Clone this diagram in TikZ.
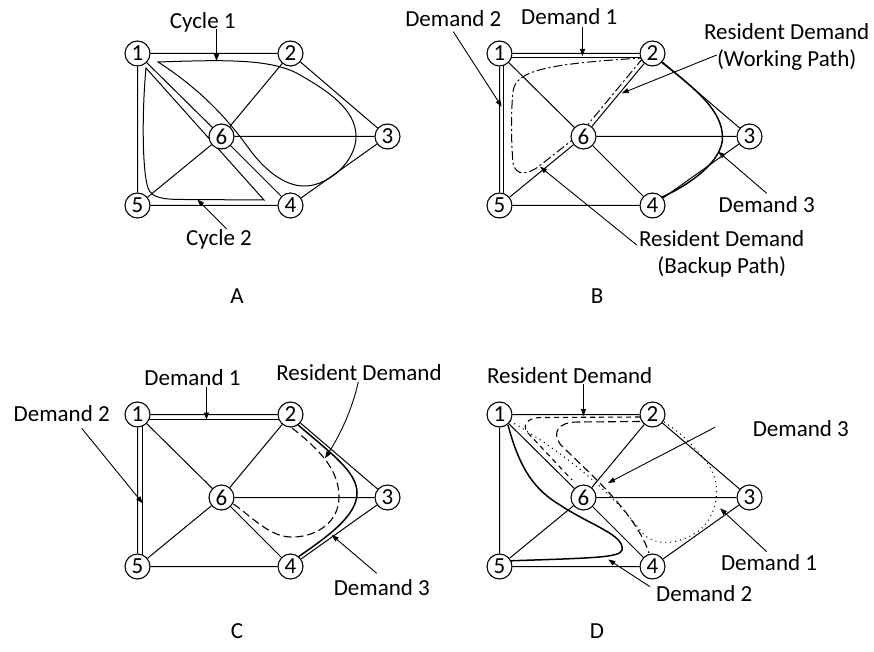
\documentclass[tikz,border=0pt]{standalone}
\usepackage{fontspec}
\setmainfont{Carlito}
\usetikzlibrary{arrows.meta}
\pgfdeclarelayer{bg}
\pgfsetlayers{bg,main}
\newcommand\fs{\fontsize{23}{27}\selectfont}
\newcommand\mygraph[3]{%
  \node[vtx] (#1-1) at (137.5+#2,53.5+#3) {1};
  \node[vtx] (#1-2) at (290.5+#2,53.5+#3) {2};
  \node[vtx] (#1-3) at (387.5+#2,136.5+#3) {3};
  \node[vtx] (#1-4) at (290.5+#2,205.5+#3) {4};
  \node[vtx] (#1-5) at (137.5+#2,205.5+#3) {5};
  \node[vtx] (#1-6) at (221.5+#2,136.5+#3) {6};
  \draw[lnk] (#1-1)--(#1-2) (#1-1)--(#1-5) (#1-1)--(#1-6) (#1-2)--(#1-6)
             (#1-2)--(#1-3) (#1-3)--(#1-6) (#1-3)--(#1-4) (#1-4)--(#1-6)
             (#1-4)--(#1-5) (#1-5)--(#1-6);
}
\begin{document}
\begin{tikzpicture}[x=1pt,y=-1pt,
  vtx/.style={circle,draw,line width=1.1pt,fill=white,minimum size=25pt,inner sep=0pt,font=\fs},
  lnk/.style={line width=1pt},
  dem/.style={line width=1.5pt},
  cyc/.style={line width=1pt},
  lbl/.style={anchor=base,inner sep=0pt,font=\fs},
  ptr/.style={line width=0.9pt,-{Triangle[length=7pt,width=5pt]}},
  dashdot/.style={line width=1pt,dash pattern=on 9pt off 3pt on 2pt off 3pt},
  longdash/.style={line width=1.1pt,dash pattern=on 8pt off 4pt},
  shortdash/.style={line width=1.1pt,dash pattern=on 5pt off 4pt},
  dotline/.style={line width=1.1pt,dash pattern=on 1pt off 4pt},
]
\useasboundingbox (0,0) rectangle (874,652);

% ---------------- Panel A ----------------
\mygraph{a}{0}{0}
\begin{pgfonlayer}{bg}
\draw[cyc] (158,62) .. controls (220,60) and (272,58) .. (300,75)
  .. controls (330,92) and (355,110) .. (356,135)
  .. controls (357,160) and (330,185) .. (306,186)
  .. controls (285,187) and (265,170) .. (250,150)
  .. controls (232,125) and (205,92) .. (158,62) -- cycle;
\draw[cyc] (146,68) .. controls (142,110) and (142,170) .. (148,188)
  .. controls (152,198) and (162,199.5) .. (185,199.5) -- (264,200) -- cycle;
\end{pgfonlayer}
\node[lbl] (acy1) at (202.7,28.3) {Cycle 1};
\coordinate (acy1s) at (216.5,29);
\coordinate (acy1t) at (216.5,61);
\draw[ptr] (acy1s) -- (acy1t);
\node[lbl] (acy2) at (219,245) {Cycle 2};
\coordinate (acy2s) at (226.7,229);
\coordinate (acy2t) at (197.3,199.5);
\draw[ptr] (acy2s) -- (acy2t);
\node[lbl] (la) at (237,303.5) {A};

% ---------------- Panel B ----------------
\mygraph{b}{362}{0}
\begin{pgfonlayer}{bg}
\draw[dem] ([yshift=-4pt]b-1.center) -- ([yshift=-4pt]b-2.center);
\draw[dem] ([xshift=4pt]b-1.center) -- ([xshift=4pt]b-5.center);
\draw[dashdot] (643,58) -- (580,134) -- (538,167)
  .. controls (528,174) and (516,177) .. (513,163)
  .. controls (511,140) and (511,110) .. (513,92)
  .. controls (515,72) and (540,64) .. (643,58) -- cycle;
\draw[dem] (660,61) .. controls (700,92) and (722,112) .. (722.5,137)
  .. controls (723,160) and (692,184) .. (660,198);
\end{pgfonlayer}
\node[lbl] (bd2) at (453.3,26.7) {Demand 2};
\coordinate (bd2s) at (453.3,31.7);
\coordinate (bd2t) at (501.7,106.7);
\draw[ptr] (bd2s) -- (bd2t);
\node[lbl] (bd1) at (569.2,25) {Demand 1};
\coordinate (bd1s) at (582.5,27);
\coordinate (bd1t) at (582.5,56);
\draw[ptr] (bd1s) -- (bd1t);
\node[lbl] (brw1) at (786.7,40) {Resident Demand};
\node[lbl] (brw2) at (786.7,66.5) {(Working Path)};
\coordinate (brws) at (716.7,55);
\coordinate (brwt) at (621.7,93.3);
\draw[ptr] (brws) -- (brwt);
\node[lbl] (bd3) at (766.7,213) {Demand 3};
\coordinate (bd3s) at (766.7,193.3);
\coordinate (bd3t) at (718.3,151.7);
\draw[ptr] (bd3s) -- (bd3t);
\node[lbl] (brb1) at (721.7,246.5) {Resident Demand};
\node[lbl] (brb2) at (721.7,273) {(Backup Path)};
\coordinate (brbs) at (636.7,245);
\coordinate (brbt) at (540,166.7);
\draw[ptr] (brbs) -- (brbt);
\node[lbl] (lb) at (597,303.5) {B};

% ---------------- Panel C ----------------
\mygraph{c}{0}{361}
\begin{pgfonlayer}{bg}
\draw[dem] ([yshift=-5pt]c-1.center) -- ([yshift=-5pt]c-2.center);
\draw[dem] ([xshift=5pt]c-1.center) -- ([xshift=5pt]c-5.center);
\draw[dem] (297,424) .. controls (333,455) and (357,472) .. (357,493)
  .. controls (357,515) and (330,535) .. (298,557);
\draw[longdash] (292,428) .. controls (320,450) and (339,470) .. (339,497)
  .. controls (339,525) and (312,538) .. (290,537)
  .. controls (268,536) and (250,515) .. (232,503);
\end{pgfonlayer}
\node[lbl] (cd1) at (192.5,385) {Demand 1};
\coordinate (cd1s) at (206.5,387);
\coordinate (cd1t) at (206.5,419.5);
\draw[ptr] (cd1s) -- (cd1t);
\node[lbl] (cd2) at (61.7,421.5) {Demand 2};
\coordinate (cd2s) at (81.7,428.3);
\coordinate (cd2t) at (142.7,503.3);
\draw[ptr] (cd2s) -- (cd2t);
\node[lbl] (crd) at (359,380) {Resident Demand};
\coordinate (crds) at (358.3,382);
\coordinate (crdt) at (325,458.3);
\draw[ptr] (crds) .. controls (352,410) and (340,435) .. (crdt);
\node[lbl] (cd3) at (381.8,595) {Demand 3};
\coordinate (cd3s) at (376.7,573.3);
\coordinate (cd3t) at (331.7,535);
\draw[ptr] (cd3s) -- (cd3t);
\node[lbl] (lc) at (237,638.5) {C};

% ---------------- Panel D ----------------
\mygraph{d}{362}{361}
\begin{pgfonlayer}{bg}
% resident demand (short dashes)
\draw[shortdash] (640,417) -- (540,417.5)
  .. controls (528,418) and (522,424) .. (527,432) -- (572,480);
% demand 3 (long dashes)
\draw[longdash] (640,421.5) -- (578,422)
  .. controls (558,422) and (552,432) .. (560,444)
  .. controls (580,465) and (635,510) .. (649,553);
% demand 1 (dotted)
\draw[dotline] (510,421) .. controls (560,450) and (610,490) .. (640,530)
  .. controls (652,548) and (680,545) .. (700,530)
  .. controls (720,512) and (722,480) .. (705,460)
  .. controls (690,442) and (680,432) .. (664,422);
% demand 2 (solid)
\draw[dem] (508,425) .. controls (520,470) and (535,490) .. (560,505)
  .. controls (590,525) and (625,535) .. (622,550)
  .. controls (620,558) and (590,558) .. (505,561);
\end{pgfonlayer}
\node[lbl] (drd) at (569.7,383) {Resident Demand};
\coordinate (drds) at (583.5,384);
\coordinate (drdt) at (583.5,416);
\draw[ptr] (drds) -- (drdt);
\node[lbl] (dd3) at (800.8,436.5) {Demand 3};
\coordinate (dd3s) at (715,427.3);
\coordinate (dd3t) at (608,483);
\draw[ptr] (dd3s) -- (dd3t);
\node[lbl] (dd1) at (769,570) {Demand 1};
\coordinate (dd1s) at (766.7,551.7);
\coordinate (dd1t) at (720,508.3);
\draw[ptr] (dd1s) -- (dd1t);
\node[lbl] (dd2) at (704.2,601.5) {Demand 2};
\coordinate (dd2s) at (650,586.7);
\coordinate (dd2t) at (608.3,559.5);
\draw[ptr] (dd2s) -- (dd2t);
\node[lbl] (ld) at (597,638.5) {D};
\end{tikzpicture}
\end{document}
